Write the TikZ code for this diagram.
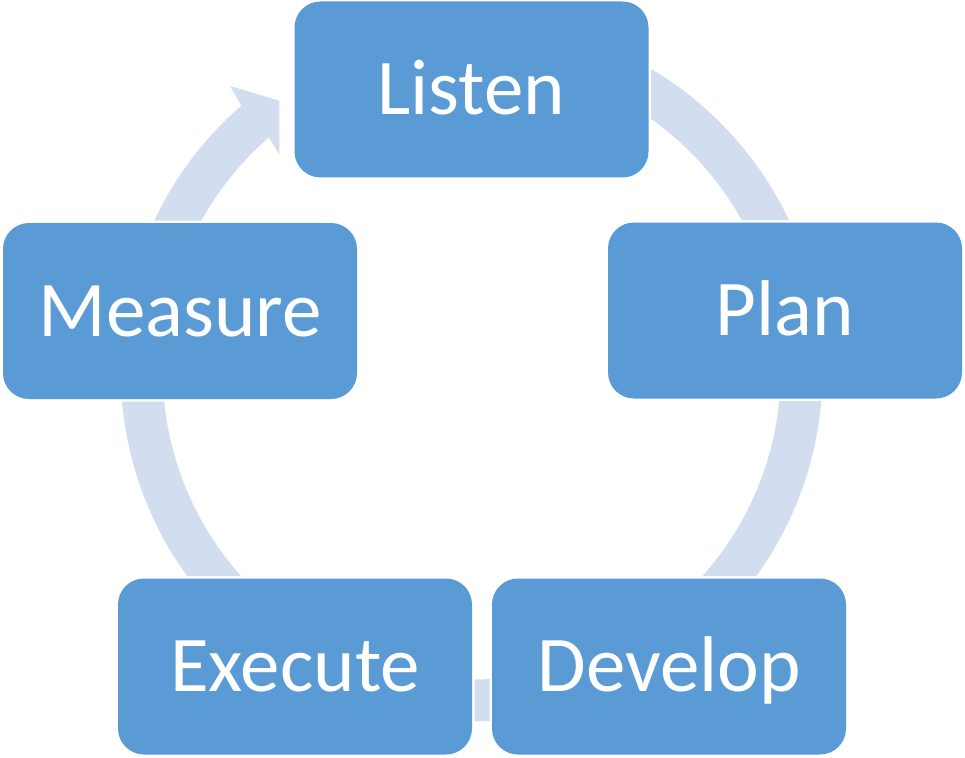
\documentclass[tikz,border=0pt]{standalone}
\usepackage{fontspec}
\setmainfont{Carlito}
\usetikzlibrary{calc}
\definecolor{boxBlue}{HTML}{5B9BD5}
\definecolor{ringBlue}{HTML}{D2DEEF}

\begin{document}
\begin{tikzpicture}
[x=0.5pt,y=0.5pt,
  boxDecorate/.style={shape=rectangle,rounded corners=13pt,fill=boxBlue,
    minimum width=177pt,minimum height=88pt,inner sep=0pt,
    text=white,font=\fontsize{39.5}{47}\selectfont,
    text height=25pt,text depth=0pt,
    preaction={draw=white,line width=2.5pt}},%
  ringDecorate/.style={draw=ringBlue,line width=21pt}]
\useasboundingbox (0,0) rectangle (965,757);
\coordinate (ringC) at (471.7,386.5);
%% ring and arrow head
\draw[ringDecorate] ($(ringC)+(131:330)$) arc[start angle=131,end angle=455,radius=330];
\fill[ringBlue] ($(ringC)+(131:351)$) -- (230,671) -- (279.3,656.3)
  -- (279.3,602) -- ($(ringC)+(131:309)$) -- cycle;
%% nodes
\foreach \nodename/\x/\y in {Listen/471.5/667.5, Plan/785/446.5, Develop/669/90.5,
  Execute/295/90.5, Measure/180/446} {
  \node (\nodename) at (\x,\y) [boxDecorate] {\nodename};
}
\end{tikzpicture}
\end{document}
